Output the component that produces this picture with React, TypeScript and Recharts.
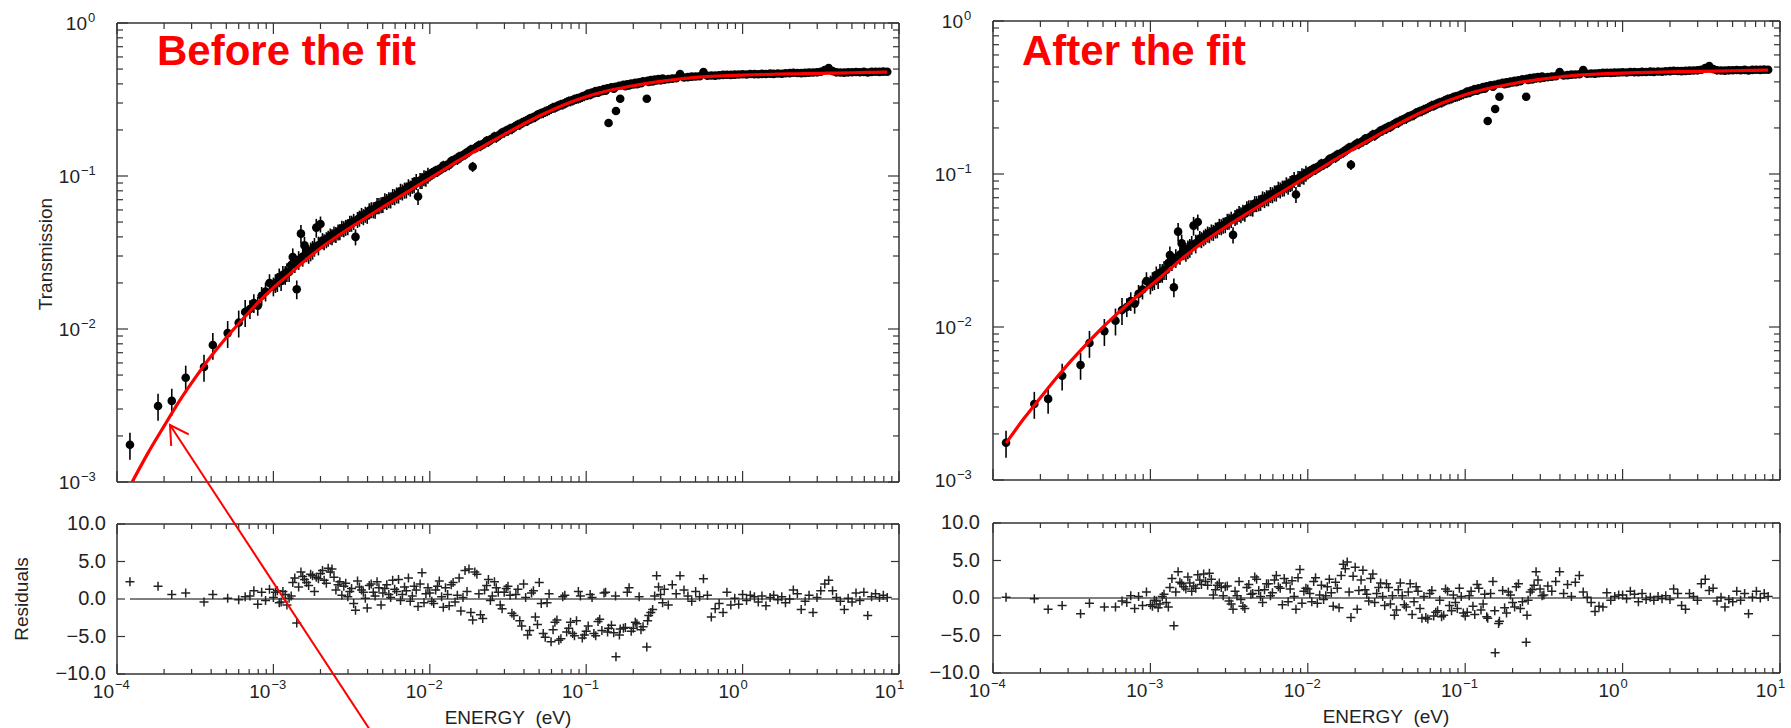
import React from 'react';
import { ScatterChart, Scatter, XAxis, YAxis, ErrorBar, ReferenceLine } from 'recharts';

const FONT = '"Liberation Sans", Arial, Helvetica, sans-serif';
const AXIS_COLOR = '#333333';
const RED = '#ff0000';

// ---- measured data, set A (energy in eV) ----
const energy = [
  1.21e-4, 1.83e-4, 2.24e-4, 2.75e-4, 3.6e-4, 4.1e-4, 5.1e-4, 6.0e-4, 6.6e-4, 7.08e-4, 7.5e-4, 7.94e-4, 8.41e-4, 8.91e-4, 9.44e-4,
  1.00e-3, 1.06e-3, 1.12e-3, 1.19e-3, 1.26e-3, 1.33e-3, 1.41e-3, 1.50e-3, 1.58e-3, 1.68e-3,
  1.78e-3, 1.88e-3, 2.00e-3, 2.11e-3, 2.24e-3, 2.37e-3, 2.51e-3, 2.66e-3, 2.82e-3, 2.99e-3,
  3.16e-3, 3.35e-3, 3.55e-3, 3.76e-3, 3.98e-3, 4.22e-3, 4.47e-3, 4.73e-3, 5.01e-3, 5.31e-3,
  5.62e-3, 5.96e-3, 6.31e-3, 6.68e-3, 7.08e-3, 7.50e-3, 7.94e-3, 8.41e-3, 8.91e-3, 9.44e-3,
  1.00e-2, 1.06e-2, 1.12e-2, 1.19e-2, 1.26e-2, 1.33e-2, 1.41e-2, 1.50e-2, 1.58e-2, 1.68e-2,
  1.78e-2, 1.88e-2, 2.00e-2, 2.11e-2, 2.24e-2, 2.37e-2, 2.51e-2, 2.66e-2, 2.82e-2, 2.99e-2,
  3.16e-2, 3.35e-2, 3.55e-2, 3.76e-2, 3.98e-2, 4.22e-2, 4.47e-2, 4.73e-2, 5.01e-2, 5.31e-2,
  5.62e-2, 5.96e-2, 6.31e-2, 6.68e-2, 7.08e-2, 7.50e-2, 7.94e-2, 8.41e-2, 8.91e-2, 9.44e-2,
  0.100, 0.106, 0.112, 0.119, 0.126, 0.133, 0.139, 0.150, 0.155, 0.165,
  0.178, 0.188, 0.200, 0.211, 0.224, 0.244, 0.251, 0.266, 0.282, 0.299,
  0.316, 0.335, 0.355, 0.376, 0.398, 0.422, 0.447, 0.473, 0.501, 0.531,
  0.562, 0.596, 0.631, 0.668, 0.708, 0.750, 0.794, 0.841, 0.891, 0.944,
  1.00, 1.06, 1.12, 1.19, 1.26, 1.33, 1.41, 1.50, 1.58, 1.68,
  1.78, 1.88, 2.00, 2.11, 2.24, 2.37, 2.51, 2.66, 2.82, 2.99,
  3.16, 3.35, 3.55, 3.76, 3.98, 4.22, 4.47, 4.73, 5.01, 5.31,
  5.62, 5.96, 6.31, 6.68, 7.08, 7.50, 7.94, 8.41,
];

const transmission = [
  1.75e-3, 3.14e-3, 3.39e-3, 4.8e-3, 5.65e-3, 7.86e-3, 9.4e-3, 1.10e-2, 1.29e-2, 0.0135, 0.0148, 0.0142, 0.0165, 0.0176, 0.0200,
  0.0190, 0.0203, 0.0206, 0.0226, 0.0236, 0.0295, 0.0182, 0.0420, 0.0352, 0.0310,
  0.0330, 0.0460, 0.0485, 0.0372, 0.0392, 0.0401, 0.0415, 0.0432, 0.0452, 0.0466,
  0.0491, 0.0400, 0.0530, 0.0542, 0.0553, 0.0601, 0.0598, 0.0640, 0.0652, 0.0680,
  0.0697, 0.0731, 0.0750, 0.0786, 0.0810, 0.0833, 0.0878, 0.0735, 0.0934, 0.0965,
  0.0995, 0.1040, 0.1065, 0.1110, 0.1149, 0.1180, 0.1245, 0.1276, 0.1330, 0.1380,
  0.1440, 0.1150, 0.1545, 0.1570, 0.1632, 0.1675, 0.1745, 0.1780, 0.1860, 0.1925,
  0.1975, 0.2030, 0.2120, 0.2160, 0.2250, 0.2295, 0.2380, 0.2430, 0.2535, 0.2580,
  0.2660, 0.2745, 0.2800, 0.2890, 0.2935, 0.3030, 0.3085, 0.3170, 0.3215, 0.3300,
  0.3340, 0.3380, 0.3470, 0.3500, 0.3585, 0.3610, 0.2220, 0.3720, 0.2660, 0.3200,
  0.3860, 0.3905, 0.3960, 0.3985, 0.4040, 0.3200, 0.4120, 0.4150, 0.4210, 0.4220,
  0.4260, 0.4300, 0.4330, 0.4350, 0.4640, 0.4400, 0.4430, 0.4460, 0.4470, 0.4490,
  0.4780, 0.4520, 0.4540, 0.4530, 0.4560, 0.4580, 0.4590, 0.4580, 0.4600, 0.4610,
  0.4620, 0.4610, 0.4640, 0.4630, 0.4620, 0.4650, 0.4640, 0.4670, 0.4650, 0.4680,
  0.4660, 0.4690, 0.4700, 0.4730, 0.4710, 0.4700, 0.4720, 0.4740, 0.4750, 0.4760,
  0.4800, 0.4920, 0.5080, 0.4850, 0.4760, 0.4750, 0.4740, 0.4760, 0.4770, 0.4780,
  0.4770, 0.4790, 0.4750, 0.4790, 0.4800, 0.4790, 0.4810, 0.4800,
];

const residualBefore = [
  2.3, 1.7, 0.6, 0.8, -0.4, 0.6, 0.1, -0.1, 0.3, 0.4, 1.1, -0.7, 0.9, -0.2, 1.3,
  0.2, 1.1, -0.4, 0.6, 0.1, 2.2, -3.2, 3.6, 2.6, 1.8,
  3.1, 2.9, 3.4, 2.5, 4.1, 4.0, 1.2, 2.3, 1.7, 0.3,
  1.4, -1.5, 1.6, 0.9, -1.2, 2.0, 0.4, 1.5, 0.8, 1.9,
  0.2, 1.3, 2.6, 0.6, 1.1, -0.3, 1.7, -1.0, 3.5, 0.7,
  0.8, -0.6, 1.7, 0.3, 1.5, -0.9, 2.2, 0.5, -1.6, 3.8,
  4.0, -2.8, 3.3, -2.1, 1.2, 2.6, 0.4, 1.5, -0.8, 0.9,
  1.7, -1.9, 0.6, -2.9, 2.0, -4.8, 0.8, -2.4, 2.2, -4.6,
  -0.5, -5.7, -3.1, -5.5, 0.3, -4.4, -3.1, -4.9, 1.0, -5.2,
  -4.3, 0.6, -4.6, -3.0, -4.2, 0.9, -3.9, -4.5, -7.7, -4.0,
  -3.8, 1.5, -3.9, -3.3, -4.1, -6.4, -2.2, -1.4, 3.1, 0.6,
  1.3, -0.8, 1.9, 0.7, 3.1, 1.2, 0.4, -0.3, 1.0, 0.3,
  2.7, 0.5, -2.4, -1.3, -0.6, -1.8, 0.9, -0.8, 0.1, -0.7,
  0.6, -0.2, 0.5, 0.3, -0.4, 0.4, -0.9, 0.2, 0.5, -0.1,
  0.3, -0.5, 0.0, 1.2, 0.7, -1.4, -0.3, 0.5, -1.8, 0.2,
  1.1, 2.0, 2.5, 1.1, 0.2, -0.3, -1.4, 0.1, -0.4, 0.8,
  -0.2, 0.9, -2.2, 0.3, 0.7, 0.2, 0.5, 0.2,
];

const residualAfter = [
  0.1, -0.1, -1.5, -1.0, -2.1, -0.7, -1.2, -1.2, -0.4, -0.6, 0.3, -1.4, 0.2, -1.0, 0.8,
  -0.9, -0.3, -1.3, 0.2, -0.6, 1.4, -3.7, 3.5, 1.9, 1.2,
  2.0, 1.6, 3.1, 1.8, 2.2, 3.3, 0.4, 1.7, 1.4, 1.5,
  -0.4, -1.5, 0.3, -0.2, -1.4, 1.8, 0.6, 2.5, 0.2, 1.1,
  1.9, 0.7, 3.0, 1.3, 2.6, -0.5, 2.3, -1.5, 3.8, 0.9,
  1.2, -0.5, 2.7, 0.4, -0.2, 1.5, 0.7, 2.1, -1.3, 4.5,
  4.8, -2.6, 4.1, 1.0, 3.7, 0.5, 2.6, -0.6, 1.4, 0.2,
  1.9, -0.8, -2.3, 1.1, 0.3, -1.2, 1.9, -0.5, 0.9, -2.7,
  -2.6, 0.6, -2.4, -1.7, -2.5, 1.2, -1.0, 0.4, -1.4, 0.2,
  -2.4, 0.3, -1.1, 1.8, -1.6, 0.5, -2.7, 2.2, -7.3, -3.1,
  -1.3, 0.8, -0.6, 1.5, -1.4, -5.9, -0.3, 1.1, 3.5, 1.2,
  0.4, 1.6, 0.9, 2.2, 3.5, 0.6, 1.8, 0.2, 2.1, 3.0,
  0.8, 0.1, -0.6, -1.8, -1.1, -1.2, 0.7, -0.3, 0.2, 0.4,
  0.4, -0.1, 0.9, 0.5, -0.5, 0.6, -0.2, 0.1, -0.3, 0.2,
  -0.1, 0.3, -0.2, 1.2, 0.6, -1.0, -1.5, 0.6, 0.2, -0.3,
  1.9, 2.5, 1.0, 1.3, -0.4, 0.1, -1.2, -0.2, -0.5, 0.9,
  -0.3, 0.6, -2.1, 0.1, 0.9, 0.0, 0.6, 0.2,
];

// ---- measured data, set B (the in-between bins of the dense region) ----
const energyB = [
  1.03e-3, 1.09e-3, 1.15e-3, 1.22e-3, 1.30e-3, 1.37e-3, 1.45e-3, 1.54e-3, 1.63e-3, 1.73e-3,
  1.83e-3, 1.94e-3, 2.06e-3, 2.18e-3, 2.31e-3, 2.44e-3, 2.59e-3, 2.74e-3, 2.90e-3, 3.08e-3,
  3.26e-3, 3.45e-3, 3.66e-3, 3.87e-3, 4.10e-3, 4.35e-3, 4.60e-3, 4.88e-3, 5.16e-3, 5.47e-3,
  5.79e-3, 6.14e-3, 6.50e-3, 6.89e-3, 7.30e-3, 7.73e-3, 8.19e-3, 8.67e-3, 9.18e-3, 9.73e-3,
  1.03e-2, 1.09e-2, 1.15e-2, 1.22e-2, 1.30e-2, 1.37e-2, 1.45e-2, 1.54e-2, 1.63e-2, 1.73e-2,
  1.83e-2, 1.94e-2, 2.06e-2, 2.18e-2, 2.31e-2, 2.44e-2, 2.59e-2, 2.74e-2, 2.90e-2, 3.08e-2,
  3.26e-2, 3.45e-2, 3.66e-2, 3.87e-2, 4.10e-2, 4.35e-2, 4.60e-2, 4.88e-2, 5.16e-2, 5.47e-2,
  5.79e-2, 6.14e-2, 6.50e-2, 6.89e-2, 7.30e-2, 7.73e-2, 8.19e-2, 8.67e-2, 9.18e-2, 9.73e-2,
  0.103, 0.109, 0.115, 0.122, 0.130, 0.137, 0.145, 0.154, 0.163, 0.173,
  0.183, 0.194, 0.206, 0.218, 0.231, 0.247, 0.259, 0.274, 0.290, 0.308,
];

const transmissionB = [
  0.0200, 0.0218, 0.0226, 0.0236, 0.0262, 0.0270, 0.0283, 0.0297, 0.0318, 0.0322,
  0.0345, 0.0352, 0.0378, 0.0383, 0.0405, 0.0418, 0.0430, 0.0455, 0.0462, 0.0490,
  0.0505, 0.0520, 0.0552, 0.0562, 0.0592, 0.0601, 0.0640, 0.0648, 0.0688, 0.0700,
  0.0735, 0.0752, 0.0795, 0.0808, 0.0850, 0.0868, 0.0920, 0.0935, 0.0975, 0.1010,
  0.1050, 0.1085, 0.1110, 0.1170, 0.1190, 0.1250, 0.1285, 0.1340, 0.1370, 0.1430,
  0.1490, 0.1520, 0.1590, 0.1620, 0.1700, 0.1730, 0.1810, 0.1840, 0.1920, 0.1980,
  0.2040, 0.2090, 0.2170, 0.2230, 0.2290, 0.2370, 0.2420, 0.2510, 0.2570, 0.2640,
  0.2700, 0.2800, 0.2850, 0.2930, 0.2990, 0.3080, 0.3120, 0.3200, 0.3250, 0.3330,
  0.3460, 0.3510, 0.3590, 0.3630, 0.3700, 0.3740, 0.3800, 0.3830, 0.3890, 0.3940,
  0.3980, 0.4020, 0.4070, 0.4100, 0.4160, 0.4190, 0.4230, 0.4270, 0.4300, 0.4340,
];

const residualBeforeB = [
  0.9, -0.5, 1.0, -0.8, 0.4, 2.8, 1.6, 3.0, 2.2, 3.3,
  1.0, 2.7, 3.8, 2.1, 3.6, 2.9, 1.9, 0.5, 2.1, 1.0,
  -0.6, 2.4, 1.2, 0.1, 1.8, 0.9, 2.3, -0.8, 1.4, 0.6,
  2.5, 1.0, -0.2, 1.6, 2.8, 0.4, 1.2, 2.0, -0.5, 1.5,
  -0.3, 1.2, 2.4, -1.1, 0.6, 1.9, -0.4, 2.8, 0.2, 1.0,
  -1.8, 3.6, 0.7, -2.6, 1.8, -0.2, 2.3, 0.9, -1.3, 1.4,
  0.5, -2.2, 1.3, -3.6, 0.2, -4.2, 1.1, -3.4, -0.6, -5.1,
  0.7, -4.1, -2.8, -5.3, 0.5, -3.9, -4.6, -2.9, 0.4, -4.8,
  -3.6, 0.2, -4.9, -2.7, 0.8, -4.4, -3.5, 0.4, -4.8, -3.9,
  0.9, -4.3, -3.1, 0.3, -3.7, -2.9, -1.8, 0.4, 1.6, -0.5,
];

const residualAfterB = [
  -1.1, -0.4, -0.8, 0.5, -1.2, 2.6, 0.8, 2.1, 1.5, 2.8,
  0.9, 1.3, 2.4, 3.2, 1.7, 2.5, 1.1, 2.0, 0.3, 1.6,
  -0.8, 0.9, 2.2, -1.1, 1.4, 0.5, 2.8, 1.0, -0.6, 1.9,
  0.3, 2.4, 1.5, -0.9, 2.0, 1.2, 0.2, 2.7, -0.7, 1.3,
  0.6, 2.2, -0.7, 1.7, 0.3, 2.5, -1.1, 1.3, 3.0, 3.9,
  0.8, 2.9, -1.5, 2.4, 1.1, -0.4, 3.2, 0.6, 2.0, -1.0,
  1.4, 0.3, -1.6, 2.0, -0.9, 0.8, -2.2, 1.5, -1.4, 0.2,
  -2.8, 1.0, -1.9, -0.3, -2.3, 0.9, -1.7, -0.6, 1.3, -2.0,
  -1.9, 0.9, -2.2, 1.3, -0.8, -2.5, 0.6, -1.7, -3.4, 1.0,
  -2.0, 0.4, -1.2, 1.9, -0.5, -2.3, 0.8, 1.7, 2.4, 0.3,
];

// relative error bars by energy band
const errEdges = [7e-4, 2e-3, 1e-2, 1e-1, 1, Infinity];
const errFractions = [0.2, 0.14, 0.12, 0.075, 0.03, 0.015];

// model curves
const modelBeforeLowE = [1.25e-4, 1.58e-4, 2.0e-4, 2.51e-4, 3.16e-4, 3.98e-4, 5.01e-4, 6.31e-4, 7.94e-4];
const modelBeforeLowT = [1.0e-3, 1.55e-3, 2.32e-3, 3.39e-3, 4.79e-3, 6.61e-3, 8.81e-3, 1.148e-2, 1.48e-2];
const modelAfterLowE = [1.21e-4, 1.58e-4, 2.0e-4, 2.51e-4, 3.16e-4, 3.98e-4, 5.01e-4, 6.31e-4, 7.94e-4];
const modelAfterLowT = [1.74e-3, 2.54e-3, 3.45e-3, 4.61e-3, 6.07e-3, 7.85e-3, 1.0e-2, 1.25e-2, 1.542e-2];
const modelCommonE = [
  1.0e-3, 1.26e-3, 1.58e-3, 2.0e-3, 2.51e-3, 3.16e-3, 3.98e-3, 5.01e-3, 6.31e-3, 7.94e-3,
  1.0e-2, 1.26e-2, 1.58e-2, 2.0e-2, 2.51e-2, 3.16e-2, 3.98e-2, 5.01e-2, 6.31e-2, 7.94e-2,
  0.1, 0.126, 0.158, 0.2, 0.251, 0.316, 0.398, 0.501, 0.631, 0.794,
  1.0, 1.26, 1.58, 2.0, 2.51, 3.16, 3.98, 5.01, 6.31, 7.94, 8.4,
];
const modelCommonT = [
  0.0186, 0.02275, 0.02786, 0.03373, 0.0398, 0.0465, 0.054, 0.0625, 0.0724, 0.0838,
  0.0966, 0.1117, 0.1288, 0.1479, 0.169, 0.1928, 0.2188, 0.2466, 0.2754, 0.3034,
  0.3296, 0.3524, 0.3715, 0.389, 0.4046, 0.4188, 0.4305, 0.4406, 0.4477, 0.4529,
  0.457, 0.46, 0.4625, 0.465, 0.467, 0.469, 0.471, 0.473, 0.475, 0.477, 0.478,
];

// axis ticks
const xDecades = [1e-4, 1e-3, 1e-2, 1e-1, 1, 10];
const tDecades = [1e-3, 1e-2, 1e-1, 1];
const minorMultipliers = [1, 2, 3, 4, 5, 6, 7, 8, 9];
const residualTicks = [-10, -5, 0, 5, 10];
const residualTickLabels = ['\u221210.0', '\u22125.0', '0.0', '5.0', '10.0'];

// ---- derived tables ----
const logTicks = (decades: number[]) => {
  const out: number[] = [];
  for (let i = 0; i < decades.length - 1; i++) minorMultipliers.forEach((m) => out.push(decades[i] * m));
  out.push(decades[decades.length - 1]);
  return out;
};
const xTicks = logTicks(xDecades);
const tTicks = logTicks(tDecades);

const errorFor = (e: number) => {
  for (let i = 0; i < errEdges.length; i++) if (e < errEdges[i]) return errFractions[i];
  return errFractions[errFractions.length - 1];
};

type P = { x: number; y: number; err?: number };
const zipT = (es: number[], ts: number[]): P[] =>
  es.slice(0, Math.min(es.length, ts.length)).map((e, i) => ({ x: e, y: ts[i], err: ts[i] * errorFor(e) }));
const zipR = (es: number[], rs: number[]): P[] =>
  es.slice(0, Math.min(es.length, rs.length)).map((e, i) => ({ x: e, y: rs[i] }));

const transmissionPoints = [...zipT(energy, transmission), ...zipT(energyB, transmissionB)];
const residualBeforePoints = [...zipR(energy, residualBefore), ...zipR(energyB, residualBeforeB)];
const residualAfterPoints = [...zipR(energy, residualAfter), ...zipR(energyB, residualAfterB)];
const commonModel = modelCommonE.map((e, i) => ({ x: e, y: modelCommonT[i] }));
const modelBefore = [...modelBeforeLowE.map((e, i) => ({ x: e, y: modelBeforeLowT[i] })), ...commonModel];
const modelAfter = [...modelAfterLowE.map((e, i) => ({ x: e, y: modelAfterLowT[i] })), ...commonModel];
const zeroLineFrom = energy[0];
const zeroLineTo = energy[energy.length - 1];

// ---- helpers ----
const isDecade = (v: number) => {
  const l = Math.log10(v);
  return Math.abs(l - Math.round(l)) < 1e-6;
};
const expText = (v: number) => {
  const e = Math.round(Math.log10(v));
  return e < 0 ? `\u2212${-e}` : `${e}`;
};

const makeLogXTick = (side: 'top' | 'bottom', withLabels: boolean, majorLen: number, minorLen: number) => (props: any) => {
  const { x, y, payload } = props;
  const v = payload.value;
  const major = isDecade(v);
  const len = major ? majorLen : minorLen;
  const y2 = side === 'bottom' ? y - len : y + len;
  return (
    <g>
      <line x1={x} y1={y} x2={x} y2={y2} stroke={AXIS_COLOR} strokeWidth={1.2} />
      {withLabels && major ? (
        <g fontFamily={FONT} fill="#222">
          <text x={x - 3} y={y + 24} textAnchor="end" fontSize={19}>10</text>
          <text x={x - 2} y={y + 15} textAnchor="start" fontSize={13}>{expText(v)}</text>
        </g>
      ) : null}
    </g>
  );
};

const makeLogYTick = (side: 'left' | 'right', withLabels: boolean) => (props: any) => {
  const { x, y, payload } = props;
  const v = payload.value;
  const major = isDecade(v);
  const len = major ? 11 : 6;
  const x2 = side === 'left' ? x + len : x - len;
  const sup = expText(v);
  const supW = sup.length > 1 ? 15 : 8;
  return (
    <g>
      <line x1={x} y1={y} x2={x2} y2={y} stroke={AXIS_COLOR} strokeWidth={1.2} />
      {withLabels && major ? (
        <g fontFamily={FONT} fill="#222">
          <text x={x - 22 - supW} y={y + 7} textAnchor="end" fontSize={19}>10</text>
          <text x={x - 22 - supW + 1} y={y - 1} textAnchor="start" fontSize={13}>{sup}</text>
        </g>
      ) : null}
    </g>
  );
};

const makeResYTick = (side: 'left' | 'right', withLabels: boolean, gap: number) => (props: any) => {
  const { x, y, payload } = props;
  const v = payload.value;
  const x2 = side === 'left' ? x + 8 : x - 8;
  const k = residualTicks.indexOf(v);
  return (
    <g>
      <line x1={x} y1={y} x2={x2} y2={y} stroke={AXIS_COLOR} strokeWidth={1.2} />
      {withLabels && k >= 0 ? (
        <text x={x - gap} y={y + 6} textAnchor="end" fontSize={20} fontFamily={FONT} fill="#222">
          {residualTickLabels[k]}
        </text>
      ) : null}
    </g>
  );
};

const Dot = (p: any) => (p.cx == null ? <g /> : <circle cx={p.cx} cy={p.cy} r={4.3} fill="#000" />);
const Plus = (p: any) =>
  p.cx == null ? (
    <g />
  ) : (
    <path d={`M${p.cx - 4.5},${p.cy}H${p.cx + 4.5}M${p.cx},${p.cy - 4.5}V${p.cy + 4.5}`} stroke="#222" strokeWidth={1.5} fill="none" />
  );
const NoShape = () => <g />;

const axisLine = { stroke: AXIS_COLOR, strokeWidth: 1.5 };

type Geo = {
  left: number;
  topW: number;
  topH: number;
  topMT: number;
  botTop: number;
  botW: number;
  botH: number;
  botMT: number;
  resGap: number;
};

const TransmissionPanel = ({ g, model }: { g: Geo; model: P[] }) => (
  <div style={{ position: 'absolute', left: g.left, top: 0 }}>
    <ScatterChart width={g.topW} height={g.topH} margin={{ top: g.topMT, right: 3, bottom: 2, left: 0 }}>
      <XAxis
        xAxisId="b" dataKey="x" type="number" scale="log" domain={[1e-4, 10]} allowDataOverflow
        ticks={xTicks} interval={0} orientation="bottom" height={8} tickSize={0} tickMargin={0}
        tickLine={false} axisLine={axisLine} tick={makeLogXTick('bottom', false, 11, 6)}
      />
      <XAxis
        xAxisId="t" dataKey="x" type="number" scale="log" domain={[1e-4, 10]} allowDataOverflow
        ticks={xTicks} interval={0} orientation="top" height={8} tickSize={0} tickMargin={0}
        tickLine={false} axisLine={axisLine} tick={makeLogXTick('top', false, 11, 6)}
      />
      <YAxis
        yAxisId="l" dataKey="y" type="number" scale="log" domain={[1e-3, 1]} allowDataOverflow
        ticks={tTicks} interval={0} orientation="left" width={117} tickSize={0} tickMargin={0}
        tickLine={false} axisLine={axisLine} tick={makeLogYTick('left', true)}
      />
      <YAxis
        yAxisId="r" dataKey="y" type="number" scale="log" domain={[1e-3, 1]} allowDataOverflow
        ticks={tTicks} interval={0} orientation="right" width={8} tickSize={0} tickMargin={0}
        tickLine={false} axisLine={axisLine} tick={makeLogYTick('right', false)}
      />
      <Scatter xAxisId="b" yAxisId="l" data={transmissionPoints} shape={Dot} isAnimationActive={false}>
        <ErrorBar dataKey="err" direction="y" width={0} stroke="#000" strokeWidth={1.6} isAnimationActive={false} />
      </Scatter>
      <Scatter
        xAxisId="b" yAxisId="l" data={model} shape={NoShape} isAnimationActive={false}
        line={{ stroke: RED, strokeWidth: 3.2, fill: 'none' }} lineJointType="monotoneX"
      />
      <Scatter xAxisId="t" yAxisId="r" data={[]} shape={NoShape} isAnimationActive={false} />
    </ScatterChart>
  </div>
);

const ResidualPanel = ({ g, points }: { g: Geo; points: P[] }) => (
  <div style={{ position: 'absolute', left: g.left, top: g.botTop }}>
    <ScatterChart width={g.botW} height={g.botH} margin={{ top: g.botMT, right: 3, bottom: 0, left: 0 }}>
      <XAxis
        xAxisId="b" dataKey="x" type="number" scale="log" domain={[1e-4, 10]} allowDataOverflow
        ticks={xTicks} interval={0} orientation="bottom" height={54} tickSize={0} tickMargin={0}
        tickLine={false} axisLine={axisLine} tick={makeLogXTick('bottom', true, 10, 5)}
      />
      <XAxis
        xAxisId="t" dataKey="x" type="number" scale="log" domain={[1e-4, 10]} allowDataOverflow
        ticks={xTicks} interval={0} orientation="top" height={8} tickSize={0} tickMargin={0}
        tickLine={false} axisLine={axisLine} tick={makeLogXTick('top', false, 10, 5)}
      />
      <YAxis
        yAxisId="l" dataKey="y" type="number" domain={[-10, 10]} allowDataOverflow
        ticks={residualTicks} interval={0} orientation="left" width={117} tickSize={0} tickMargin={0}
        tickLine={false} axisLine={axisLine} tick={makeResYTick('left', true, g.resGap)}
      />
      <YAxis
        yAxisId="r" dataKey="y" type="number" domain={[-10, 10]} allowDataOverflow
        ticks={residualTicks} interval={0} orientation="right" width={8} tickSize={0} tickMargin={0}
        tickLine={false} axisLine={axisLine} tick={makeResYTick('right', false, 0)}
      />
      <ReferenceLine
        xAxisId="b" yAxisId="l"
        segment={[{ x: zeroLineFrom, y: 0 }, { x: zeroLineTo, y: 0 }]}
        stroke="#000" strokeWidth={1}
      />
      <Scatter xAxisId="b" yAxisId="l" data={points} shape={Plus} isAnimationActive={false} />
      <Scatter xAxisId="t" yAxisId="r" data={[]} shape={NoShape} isAnimationActive={false} />
    </ScatterChart>
  </div>
);

const leftGeo: Geo = { left: 0, topW: 910, topH: 492, topMT: 15, botTop: 500, botW: 910, botH: 228, botMT: 16, resGap: 11 };
const rightGeo: Geo = { left: 876, topW: 915, topH: 490, topMT: 13, botTop: 500, botW: 915, botH: 227, botMT: 15, resGap: 13 };

// arrow geometry (annotation)
const arrowTail = { x: 370, y: 730 };
const arrowTip = { x: 170, y: 425 };

export default function App() {
  const dx = arrowTail.x - arrowTip.x;
  const dy = arrowTail.y - arrowTip.y;
  const L = Math.hypot(dx, dy);
  const ux = dx / L;
  const uy = dy / L;
  const head = 21;
  const a = Math.PI / 6;
  const h1 = { x: arrowTip.x + head * (Math.cos(a) * ux - Math.sin(a) * uy), y: arrowTip.y + head * (Math.sin(a) * ux + Math.cos(a) * uy) };
  const h2 = { x: arrowTip.x + head * (Math.cos(-a) * ux - Math.sin(-a) * uy), y: arrowTip.y + head * (Math.sin(-a) * ux + Math.cos(-a) * uy) };

  return (
    <div style={{ position: 'relative', width: 1791, height: 728, background: '#fff', overflow: 'hidden', fontFamily: FONT }}>
      <style>{'body{margin:0;background:#fff}'}</style>
      <TransmissionPanel g={leftGeo} model={modelBefore} />
      <ResidualPanel g={leftGeo} points={residualBeforePoints} />
      <TransmissionPanel g={rightGeo} model={modelAfter} />
      <ResidualPanel g={rightGeo} points={residualAfterPoints} />
      <svg width={1791} height={728} style={{ position: 'absolute', left: 0, top: 0, pointerEvents: 'none' }}>
        <g fontFamily={FONT}>
          <text x={157} y={65} fontSize={42} fontWeight="bold" fill={RED}>Before the fit</text>
          <text x={1022} y={65} fontSize={42} fontWeight="bold" fill={RED}>After the fit</text>
          <text x={52} y={254} fontSize={19} fill="#222" textAnchor="middle" transform="rotate(-90 52 254)">Transmission</text>
          <text x={28} y={599} fontSize={19} fill="#222" textAnchor="middle" transform="rotate(-90 28 599)">Residuals</text>
          <text x={508} y={724} fontSize={19} fill="#222" textAnchor="middle">ENERGY{'\u00a0\u00a0'}(eV)</text>
          <text x={1386} y={723} fontSize={19} fill="#222" textAnchor="middle">ENERGY{'\u00a0\u00a0'}(eV)</text>
        </g>
        <line x1={arrowTail.x} y1={arrowTail.y} x2={arrowTip.x} y2={arrowTip.y} stroke={RED} strokeWidth={2} />
        <polyline points={`${h1.x},${h1.y} ${arrowTip.x},${arrowTip.y} ${h2.x},${h2.y}`} fill="none" stroke={RED} strokeWidth={2} />
      </svg>
    </div>
  );
}
